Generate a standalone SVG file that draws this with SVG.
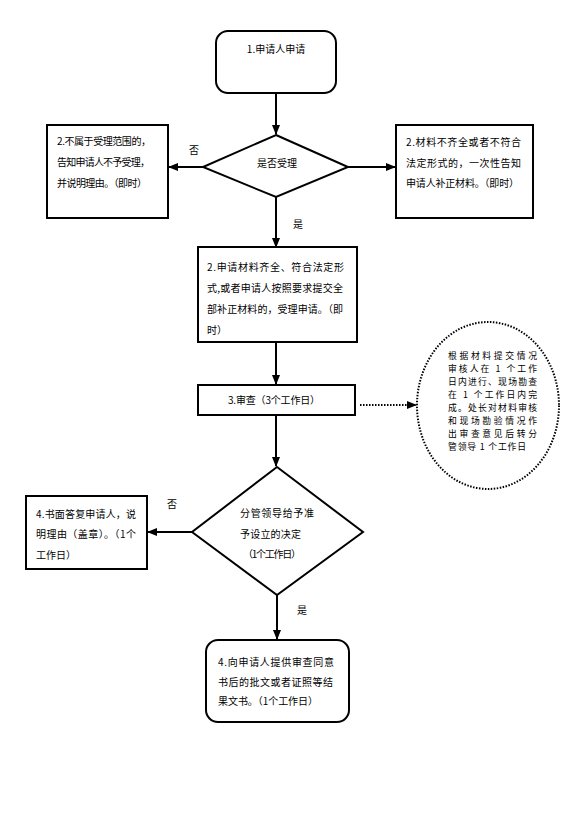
<svg xmlns="http://www.w3.org/2000/svg" width="576" height="822" viewBox="0 0 576 822">
<style>
.box{fill:#fff;stroke:#000;stroke-width:2}
.ln{stroke:#000;stroke-width:2;fill:none}
.dot{stroke:#000;stroke-width:2;fill:none;stroke-dasharray:1.5 1.5}
text{font-family:"Noto Sans CJK SC","Liberation Sans",sans-serif;font-size:10px;fill:#000}
.sm{font-size:8.8px}
</style>
<defs>
<marker id="ah" markerWidth="10" markerHeight="8" refX="9" refY="4" orient="auto" markerUnits="userSpaceOnUse">
<path d="M0,0 L10,4 L0,8 Z" fill="#000"/>
</marker>
</defs>
<rect width="576" height="822" fill="#fff"/>
<g id="connectors">
<line class="ln" x1="276" y1="93" x2="276" y2="134" marker-end="url(#ah)"/>
<line class="ln" x1="203" y1="167" x2="169" y2="167" marker-end="url(#ah)"/>
<line class="ln" x1="348" y1="167" x2="395" y2="167" marker-end="url(#ah)"/>
<line class="ln" x1="276" y1="197" x2="276" y2="247" marker-end="url(#ah)"/>
<line class="ln" x1="276" y1="342" x2="276" y2="384" marker-end="url(#ah)"/>
<line class="dot" x1="360" y1="405" x2="416" y2="405" marker-end="url(#ah)"/>
<line class="ln" x1="276" y1="415" x2="276" y2="466" marker-end="url(#ah)"/>
<line class="ln" x1="192" y1="532" x2="148" y2="532" marker-end="url(#ah)"/>
<line class="ln" x1="277" y1="595" x2="277" y2="639" marker-end="url(#ah)"/>
<text x="194" y="154" text-anchor="middle">否</text>
<text x="298" y="228" text-anchor="middle">是</text>
<text x="172" y="508" text-anchor="middle">否</text>
<text x="302" y="614" text-anchor="middle">是</text>
</g>
<g id="n1">
<rect class="box" x="216" y="31" width="120" height="62" rx="12"/>
<text x="276" y="53" text-anchor="middle">1.申请人申请</text>
</g>
<g id="d1">
<polygon class="box" points="276,135 348,167 276,197 203,167"/>
<text x="277" y="167" text-anchor="middle">是否受理</text>
</g>
<g id="n2a">
<rect class="box" x="47" y="125" width="121" height="93"/>
<text x="57" y="145" textLength="94">2.不属于受理范围的，</text>
<text x="57" y="166" textLength="93">告知申请人不予受理，</text>
<text x="57" y="187" textLength="90">并说明理由。（即时）</text>
</g>
<g id="n2b">
<rect class="box" x="396" y="125" width="137" height="93"/>
<text x="406" y="146" textLength="115">2.材料不齐全或者不符合</text>
<text x="406" y="167" textLength="115">法定形式的，一次性告知</text>
<text x="406" y="187" textLength="113">申请人补正材料。（即时）</text>
</g>
<g id="n2c">
<rect class="box" x="198" y="247" width="159" height="95"/>
<text x="207" y="271" textLength="137">2.申请材料齐全、符合法定形</text>
<text x="207" y="292" textLength="136">式,或者申请人按照要求提交全</text>
<text x="207" y="313" textLength="136">部补正材料的，受理申请。（即</text>
<text x="207" y="334">时）</text>
</g>
<g id="n3">
<rect class="box" x="198" y="385" width="157" height="30"/>
<text x="228" y="404" textLength="92">3.审查（3个工作日）</text>
</g>
<g id="e1">
<ellipse class="dot" cx="488" cy="405.5" rx="71" ry="83.5"/>
<text class="sm" x="448" y="359" textLength="89">根据材料提交情况</text>
<text class="sm" x="448" y="372" textLength="89">审核人在 1 个工作</text>
<text class="sm" x="448" y="385" textLength="89">日内进行、现场勘查</text>
<text class="sm" x="448" y="398" textLength="89">在 1 个工作日内完</text>
<text class="sm" x="448" y="411" textLength="89">成。处长对材料审核</text>
<text class="sm" x="448" y="424" textLength="89">和现场勘验情况作</text>
<text class="sm" x="448" y="437" textLength="89">出审查意见后转分</text>
<text class="sm" x="448" y="450" textLength="78">管领导 1 个工作日</text>
</g>
<g id="d2">
<polygon class="box" points="277,467 363,532 277,595 192,532"/>
<text x="240" y="517" textLength="74">分管领导给予准</text>
<text x="240" y="538" textLength="61">予设立的决定</text>
<text x="243" y="558" textLength="58">（1个工作日）</text>
</g>
<g id="n4a">
<rect class="box" x="26" y="496" width="121" height="73"/>
<text x="36" y="518" textLength="100">4.书面答复申请人，说</text>
<text x="36" y="538" textLength="100">明理由（盖章）。（1个</text>
<text x="36" y="559">工作日）</text>
</g>
<g id="n4b">
<rect class="box" x="206" y="640" width="143" height="82" rx="12"/>
<text x="218" y="666" textLength="116">4.向申请人提供审查同意</text>
<text x="218" y="686" textLength="115">书后的批文或者证照等结</text>
<text x="218" y="705" textLength="100">果文书。（1个工作日）</text>
</g>
</svg>
